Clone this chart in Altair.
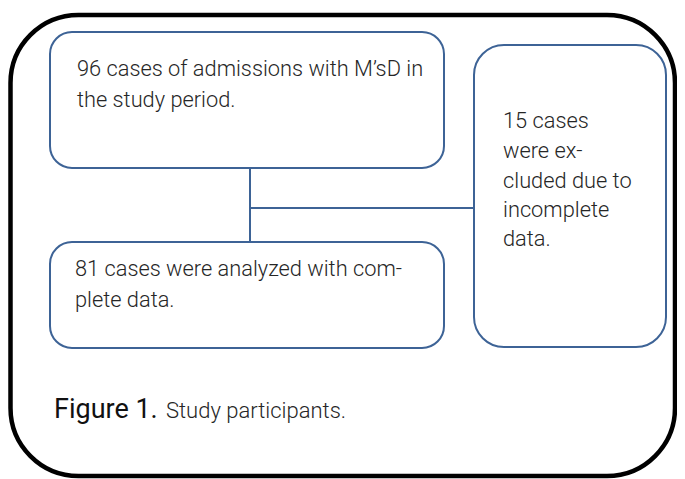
import altair as alt
import pandas as pd

# Flowchart boxes (pixel coordinates of the picture)
box_names = ["admissions", "analyzed", "excluded"]
box_x = [50, 50, 474]
box_x2 = [444, 444, 666]
box_y = [32, 242, 45]
box_y2 = [168, 348, 347]

# Connector lines
line_x = [250, 250]
line_x2 = [250, 474]
line_y = [168, 208]
line_y2 = [242, 208]

# Box texts
text_lines = [
    "96 cases of admissions with M\u2019sD in",
    "the study period.",
    "81 cases were analyzed with com-",
    "plete data.",
    "15 cases",
    "were ex-",
    "cluded due to",
    "incomplete",
    "data.",
]
text_x = [77, 77, 75, 75, 503, 503, 503, 503, 503]
text_y = [76, 107, 276, 307, 128, 158, 188, 217, 246]

caption_bold = "Figure 1."
caption_rest = "Study participants."

W, H = 669, 471
xs = alt.Scale(domain=[8, 8 + W], zero=False, nice=False)
ys = alt.Scale(domain=[8 + H, 8], zero=False, nice=False)

frame = pd.DataFrame({"x": [10.5], "x2": [675], "y": [15], "y2": [476]})
boxes = pd.DataFrame({"name": box_names, "x": box_x, "x2": box_x2, "y": box_y, "y2": box_y2})
lines = pd.DataFrame({"x": line_x, "x2": line_x2, "y": line_y, "y2": line_y2})
texts = pd.DataFrame({"t": text_lines, "x": text_x, "y": text_y})
cap1 = pd.DataFrame({"t": [caption_bold], "x": [54], "y": [418]})
cap2 = pd.DataFrame({"t": [caption_rest], "x": [166], "y": [418]})

BLUE = "#3D6396"

outer = alt.Chart(frame).mark_rect(
    fill=None, stroke="black", strokeWidth=4.5, cornerRadius=68
).encode(
    x=alt.X("x:Q", scale=xs, axis=None), x2="x2:Q",
    y=alt.Y("y:Q", scale=ys, axis=None), y2="y2:Q",
)

left_boxes = alt.Chart(boxes[boxes.name != "excluded"]).mark_rect(
    fill="white", stroke=BLUE, strokeWidth=2, cornerRadius=22
).encode(
    x=alt.X("x:Q", scale=xs, axis=None), x2="x2:Q",
    y=alt.Y("y:Q", scale=ys, axis=None), y2="y2:Q",
)

right_box = alt.Chart(boxes[boxes.name == "excluded"]).mark_rect(
    fill="white", stroke=BLUE, strokeWidth=2, cornerRadius=30
).encode(
    x=alt.X("x:Q", scale=xs, axis=None), x2="x2:Q",
    y=alt.Y("y:Q", scale=ys, axis=None), y2="y2:Q",
)

connectors = alt.Chart(lines).mark_rule(color=BLUE, strokeWidth=2).encode(
    x=alt.X("x:Q", scale=xs, axis=None), x2="x2:Q",
    y=alt.Y("y:Q", scale=ys, axis=None), y2="y2:Q",
)

txt = alt.Chart(texts).mark_text(
    align="left", baseline="alphabetic", font="Roboto", fontWeight=300,
    fontSize=21.8, color="#262626"
).encode(
    x=alt.X("x:Q", scale=xs, axis=None),
    y=alt.Y("y:Q", scale=ys, axis=None),
    text="t:N",
)

c1 = alt.Chart(cap1).mark_text(
    align="left", baseline="alphabetic", font="Roboto", fontWeight=400,
    fontSize=27, color="#111111"
).encode(
    x=alt.X("x:Q", scale=xs, axis=None),
    y=alt.Y("y:Q", scale=ys, axis=None),
    text="t:N",
)

c2 = alt.Chart(cap2).mark_text(
    align="left", baseline="alphabetic", font="Roboto", fontWeight=300,
    fontSize=22, color="#262626"
).encode(
    x=alt.X("x:Q", scale=xs, axis=None),
    y=alt.Y("y:Q", scale=ys, axis=None),
    text="t:N",
)

chart = alt.layer(outer, connectors, left_boxes, right_box, txt, c1, c2).properties(
    width=W, height=H, padding=0, autosize=alt.AutoSizeParams(type="none")
).configure_view(stroke=None)

chart.save("out.html", embed_options={"renderer": "svg", "actions": False})
